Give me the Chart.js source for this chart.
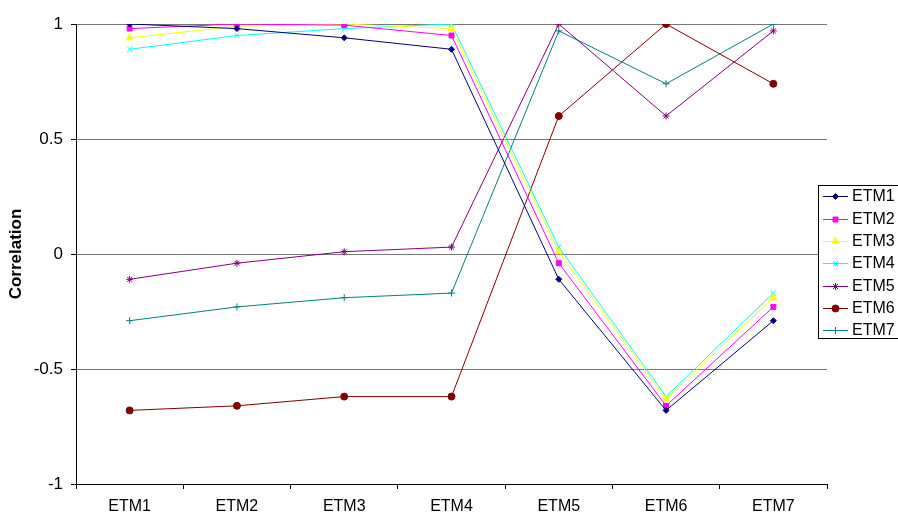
<!DOCTYPE html>
<html>
<head>
<meta charset="utf-8">
<script src="https://cdn.jsdelivr.net/npm/chart.js@4/dist/chart.umd.min.js"></script>
<style>
  html, body { margin: 0; padding: 0; background: #fff; }
  #wrap { width: 898px; height: 513px; position: relative; }
</style>
</head>
<body>
<div id="wrap"><canvas id="c" width="898" height="513"></canvas></div>
<script>
const categories = ["ETM1", "ETM2", "ETM3", "ETM4", "ETM5", "ETM6", "ETM7"];
const seriesNames = ["ETM1", "ETM2", "ETM3", "ETM4", "ETM5", "ETM6", "ETM7"];
const etm1 = [1.00, 0.98, 0.94, 0.89, -0.11, -0.68, -0.29];
const etm2 = [0.98, 1.00, 0.995, 0.95, -0.04, -0.66, -0.23];
const etm3 = [0.94, 0.99, 1.00, 0.98, 0.01, -0.63, -0.19];
const etm4 = [0.89, 0.95, 0.98, 1.00, 0.03, -0.62, -0.17];
const etm5 = [-0.11, -0.04, 0.01, 0.03, 1.00, 0.60, 0.97];
const etm6 = [-0.68, -0.66, -0.62, -0.62, 0.60, 1.00, 0.74];
const etm7 = [-0.29, -0.23, -0.19, -0.17, 0.97, 0.74, 1.00];
const yTicks = [-1, -0.5, 0, 0.5, 1];

const seriesValues = [etm1, etm2, etm3, etm4, etm5, etm6, etm7];
const colors = ["#000080", "#FF00FF", "#FFFF00", "#00FFFF", "#800080", "#800000", "#008080"];
const styles = ["rectRot", "rect", "triangle", "crossRot", "star", "circle", "cross"];
const radii = [3, 3.5, 4, 3.5, 3.5, 3.5, 3.5];

const FONT = "'Liberation Sans', Arial, sans-serif";

const datasets = seriesValues.map((vals, i) => ({
  label: seriesNames[i],
  data: vals,
  borderColor: colors[i],
  backgroundColor: colors[i],
  borderWidth: 1,
  pointStyle: styles[i],
  pointRadius: radii[i],
  pointHoverRadius: radii[i],
  pointBorderWidth: 1,
  pointBackgroundColor: colors[i],
  pointBorderColor: colors[i],
  tension: 0,
  fill: false
}));

const legendPlugin = {
  id: 'customLegend',
  afterDraw(chart) {
    const ctx = chart.ctx;
    const bx = 818, by = 185, bw = 100, bh = 153;
    ctx.save();
    ctx.fillStyle = '#fff';
    ctx.fillRect(bx, by, bw, bh);
    ctx.strokeStyle = '#000';
    ctx.lineWidth = 1;
    ctx.strokeRect(bx + 0.5, by + 0.5, bw, bh);
    const rows = [196, 218.5, 241, 263, 285.5, 308, 330];
    chart.data.datasets.forEach((ds, i) => {
      const y = rows[i];
      ctx.strokeStyle = ds.borderColor;
      ctx.lineWidth = 1;
      ctx.beginPath();
      ctx.moveTo(823, Math.round(y) + 0.5);
      ctx.lineTo(848, Math.round(y) + 0.5);
      ctx.stroke();
      ctx.fillStyle = ds.borderColor;
      ctx.strokeStyle = ds.borderColor;
      Chart.helpers.drawPoint(ctx, {
        pointStyle: ds.pointStyle, radius: ds.pointRadius, rotation: 0, borderWidth: 1
      }, 835.5, Math.round(y) + 0.5);
      ctx.fillStyle = '#000';
      ctx.font = "16px " + FONT;
      ctx.textBaseline = 'middle';
      ctx.textAlign = 'left';
      ctx.fillText(ds.label, 852, y + 1);
    });
    ctx.restore();
  }
};

new Chart(document.getElementById('c'), {
  type: 'line',
  data: { labels: categories, datasets },
  plugins: [legendPlugin],
  options: {
    responsive: false,
    animation: false,
    devicePixelRatio: 1,
    layout: { padding: { top: 24, right: 71, left: 0, bottom: 0 } },
    plugins: { legend: { display: false }, tooltip: { enabled: false } },
    scales: {
      x: {
        type: 'category',
        offset: true,
        afterFit(scale) { scale.height = 29; },
        grid: {
          offset: true,
          drawOnChartArea: true,
          color: (c) => c.index === categories.length ? '#808080' : 'rgba(0,0,0,0)',
          tickColor: '#000',
          tickLength: 5,
          lineWidth: 1
        },
        border: { display: true, color: '#000', width: 1 },
        ticks: { color: '#000', font: { family: FONT, size: 16 }, padding: 8, maxRotation: 0, autoSkip: false }
      },
      y: {
        min: -1, max: 1,
        afterFit(scale) { scale.width = 76; },
        afterBuildTicks(scale) { scale.ticks = yTicks.map(v => ({ value: v })); },
        grid: { color: '#777', tickColor: '#000', tickLength: 5, lineWidth: 1 },
        border: { display: true, color: '#000', width: 1 },
        ticks: {
          color: '#000', font: { family: FONT, size: 17 }, padding: 8,
          callback: (v) => String(v)
        },
        title: {
          display: true, text: 'Correlation', color: '#000',
          font: { family: FONT, size: 17, weight: 'bold' },
          padding: { top: 6, bottom: 0 }
        }
      }
    }
  }
});
</script>
</body>
</html>
